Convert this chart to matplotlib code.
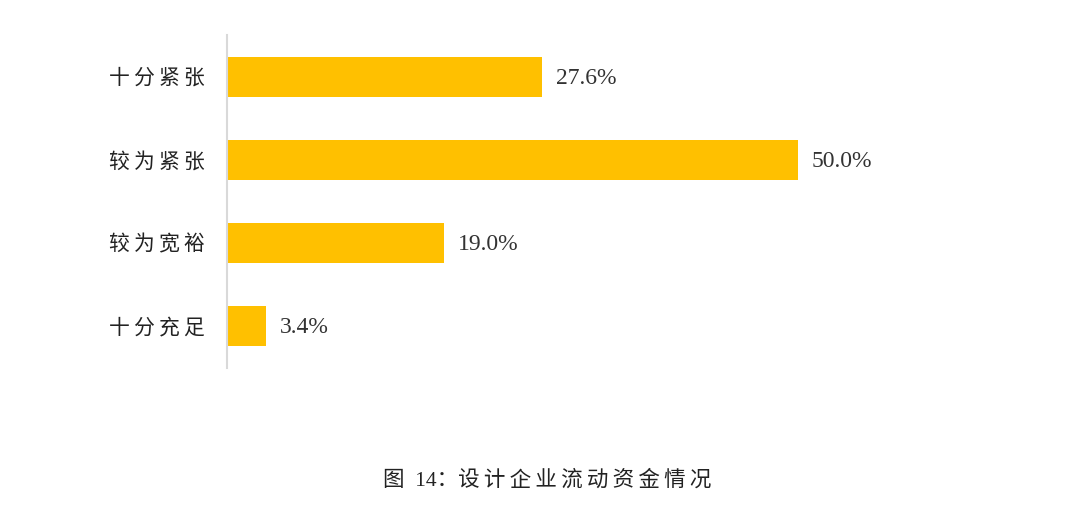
import matplotlib.pyplot as plt

categories = ["十分紧张", "较为紧张", "较为宽裕", "十分充足"]
shares = [27.6, 50.0, 19.0, 3.4]
caption_head = "图  14："
caption_body = "设计企业流动资金情况"

fonts = ["Liberation Serif", "Noto Sans CJK SC", "DejaVu Sans"]
plt.rcParams["font.family"] = fonts

THIN = "\u2009"


def spaced(text):
    # the reference sets its Chinese text with a little tracking
    return THIN.join(text)


def main():
    fig = plt.figure(figsize=(10.8, 5.24), dpi=100)
    ax = fig.add_axes([227 / 1080, 156 / 524, 773 / 1080, 333 / 524])

    positions = list(range(len(categories)))
    ax.barh(positions, shares, height=0.48, color="#FFC000", zorder=2)

    for pos, value in zip(positions, shares):
        ax.annotate(
            f"{value:.1f}%",
            xy=(value, pos),
            xytext=(10, -1),
            textcoords="offset points",
            ha="left",
            va="center",
            fontsize=17,
            color="#333333",
        )

    ax.set_xlim(0, 773 / 11.42)
    ax.set_ylim(3.5, -0.5)
    ax.set_yticks(positions)
    ax.set_yticklabels([spaced(c) for c in categories], fontsize=15, color="#222222")
    ax.tick_params(axis="y", length=0, pad=16)
    ax.set_xticks([])

    for key in ["top", "right", "bottom"]:
        ax.spines[key].set_visible(False)
    ax.spines["left"].set_color("#d9d9d9")
    ax.spines["left"].set_linewidth(1.5)

    fig.text(0.5 + 7 / 1080, 1 - 480 / 524, caption_head + spaced(caption_body),
             ha="center", va="center", fontsize=15.5, color="#222222")

    fig.savefig("out.png", dpi=100)


main()
